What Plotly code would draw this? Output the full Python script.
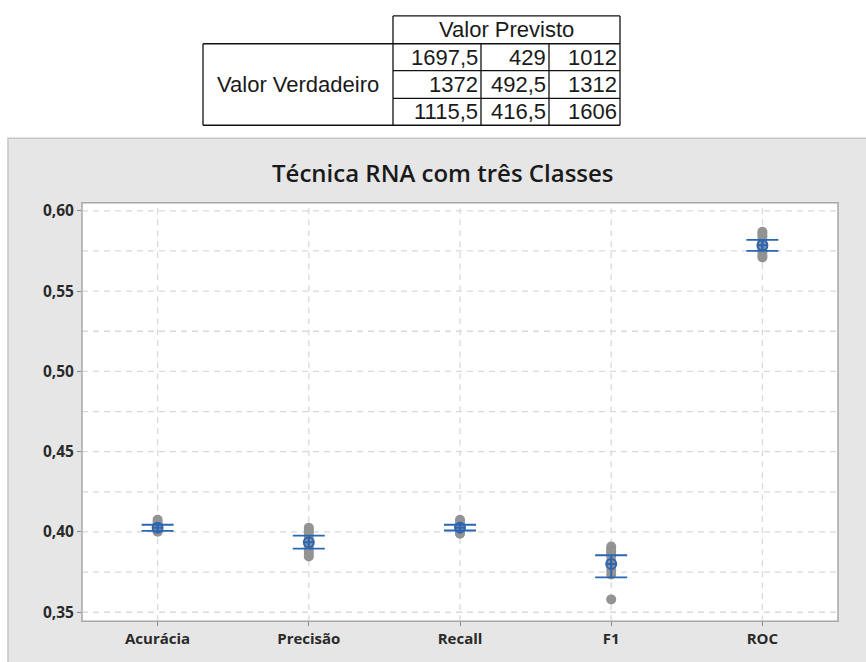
import plotly.graph_objects as go

W, H = 866, 662

# Metrics and observations (individual folds)
metrics = ["Acurácia", "Precisão", "Recall", "F1", "ROC"]
obs_acuracia = [0.4076, 0.4062, 0.4048, 0.4036, 0.4028, 0.4020, 0.4014, 0.4008, 0.4004, 0.4001]
obs_precisao = [0.4026, 0.4012, 0.3998, 0.3975, 0.3950, 0.3930, 0.3905, 0.3885, 0.3865, 0.3847]
obs_recall = [0.4076, 0.4062, 0.4048, 0.4036, 0.4028, 0.4020, 0.4012, 0.4004, 0.3995, 0.3989]
obs_f1 = [0.3909, 0.3895, 0.3880, 0.3865, 0.3850, 0.3820, 0.3790, 0.3760, 0.3735, 0.3580]
obs_roc = [0.5870, 0.5855, 0.5840, 0.5820, 0.5800, 0.5780, 0.5760, 0.5740, 0.5722, 0.5709]

# Means and 95% confidence intervals
means = [0.4026, 0.3936, 0.4027, 0.3800, 0.5785]
ci_low = [0.4007, 0.3896, 0.4009, 0.3717, 0.5751]
ci_high = [0.4045, 0.3977, 0.4045, 0.3855, 0.5819]

# Confusion matrix
matrix_rows = [["1697,5", "429", "1012"],
               ["1372", "492,5", "1312"],
               ["1115,5", "416,5", "1606"]]

all_obs = [obs_acuracia, obs_precisao, obs_recall, obs_f1, obs_roc]


def px(x):
    return x / W


def py(y):
    return 1 - y / H


fig = go.Figure()

xs, ys = [], []
for i, vals in enumerate(all_obs):
    xs += [i] * len(vals)
    ys += vals
fig.add_trace(go.Scatter(
    x=xs, y=ys, mode="markers",
    marker=dict(color="#939393", size=10, line=dict(width=0)),
    hoverinfo="y", showlegend=False))

blue = "#2a66b3"
fig.add_trace(go.Scatter(
    x=list(range(len(metrics))), y=means, mode="markers",
    marker=dict(color=blue, size=10, symbol="circle-cross-open", line=dict(width=2, color=blue)),
    error_y=dict(type="data", symmetric=False,
                 array=[h - m for h, m in zip(ci_high, means)],
                 arrayminus=[m - l for m, l in zip(means, ci_low)],
                 color=blue, thickness=1.8, width=16),
    showlegend=False))

grid = dict(showgrid=False, zeroline=False)
fig.update_layout(
    width=W, height=H,
    margin=dict(l=0, r=0, t=0, b=0),
    paper_bgcolor="white",
    plot_bgcolor="white",
    separators=", ",
    font=dict(family="Open Sans, Noto Sans, sans-serif", color="#222"),
    xaxis=dict(domain=[px(82), px(838)], range=[-0.5, 4.5],
               tickmode="array", tickvals=list(range(len(metrics))), ticktext=metrics,
               tickfont=dict(size=15, color="#2a2a2a", weight="bold"),
               ticks="outside", ticklen=4, tickcolor="#888",
               showline=False, **grid),
    yaxis=dict(domain=[py(622), py(201)], range=[0.3444, 0.605],
               tickvals=[0.35, 0.40, 0.45, 0.50, 0.55, 0.60], tickformat=".2f",
               tickfont=dict(size=15.5, color="#2a2a2a", weight="bold"),
               ticks="outside", ticklen=4, tickcolor="#888",
               showline=False, **grid),
)

shapes = []
# grey panel behind the plot
shapes.append(dict(type="rect", xref="paper", yref="paper", layer="below",
                   x0=px(8), x1=px(868), y0=py(664), y1=py(136),
                   fillcolor="#e6e6e6", line=dict(color="#c6c6c6", width=1.5)))
# plot area fill
shapes.append(dict(type="rect", xref="paper", yref="paper", layer="below",
                   x0=px(82), x1=px(838), y0=py(622), y1=py(201),
                   fillcolor="white", line=dict(width=0)))
# dashed grid lines
for k in range(11):
    v = 0.35 + 0.025 * k
    shapes.append(dict(type="line", xref="paper", yref="y", layer="below",
                       x0=px(82), x1=px(838), y0=v, y1=v,
                       line=dict(color="#d9d9d9", width=1.3, dash="6px,5px")))
for i in range(len(metrics)):
    shapes.append(dict(type="line", xref="x", yref="paper", layer="below",
                       x0=i, x1=i, y0=py(622), y1=py(201),
                       line=dict(color="#d9d9d9", width=1.3, dash="6px,5px")))
# plot border
shapes.append(dict(type="rect", xref="paper", yref="paper",
                   x0=px(82), x1=px(838), y0=py(622), y1=py(201),
                   line=dict(color="#a8a8a8", width=1.5)))

# confusion matrix table lines
tl = dict(color="#111", width=1.3)
def seg(x0, y0, x1, y1):
    shapes.append(dict(type="line", xref="paper", yref="paper",
                       x0=px(x0), y0=py(y0), x1=px(x1), y1=py(y1), line=tl))

col_edges = [393, 481, 549, 620]
row_edges = [41, 68, 96, 123]
seg(393, 13, 620, 13)
seg(203, 41, 620, 41)
seg(203, 123, 620, 123)
seg(203, 41, 203, 123)
seg(393, 13, 393, 123)
seg(620, 13, 620, 123)
for yv in row_edges[1:3]:
    seg(393, yv, 620, yv)
for xv in col_edges[1:3]:
    seg(xv, 41, xv, 123)

annotations = []
tfont = dict(family="Liberation Sans, Arial, sans-serif", size=22, color="#1a1a1a")
annotations.append(dict(text="Valor Previsto", x=px(506), y=py(27), xref="paper", yref="paper",
                        showarrow=False, font=tfont, xanchor="center", yanchor="middle"))
annotations.append(dict(text="Valor Verdadeiro", x=px(298), y=py(82), xref="paper", yref="paper",
                        showarrow=False, font=tfont, xanchor="center", yanchor="middle"))
for r, row in enumerate(matrix_rows):
    yc = (row_edges[r] + row_edges[r + 1]) / 2
    for c, val in enumerate(row):
        annotations.append(dict(text=val, x=px(col_edges[c + 1] - 1), y=py(yc),
                                xref="paper", yref="paper", showarrow=False, font=tfont,
                                xanchor="right", yanchor="middle"))

annotations.append(dict(text="Técnica RNA com três Classes", x=px(443), y=py(171),
                        xref="paper", yref="paper", showarrow=False,
                        font=dict(family="Open Sans, Noto Sans, sans-serif", size=24,
                                  color="#1a1a1a", weight=600),
                        xanchor="center", yanchor="middle"))

fig.update_layout(shapes=shapes, annotations=annotations)
fig.write_html("out.html")
